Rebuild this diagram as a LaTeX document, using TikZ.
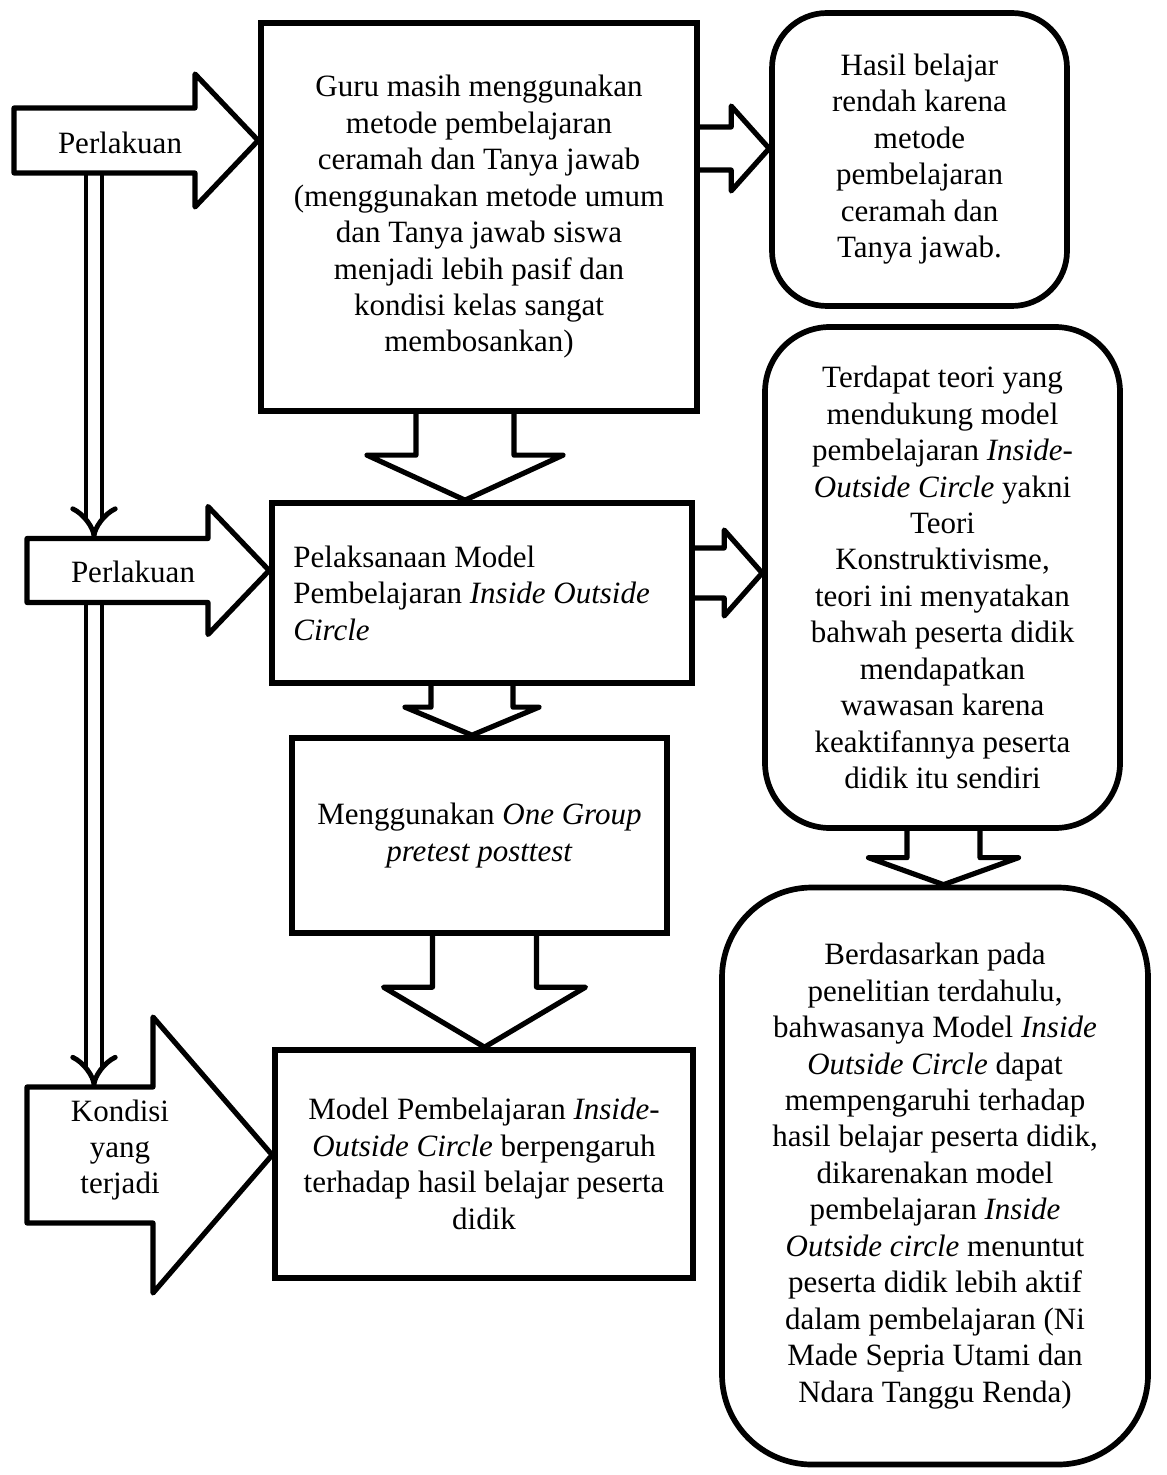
\documentclass[tikz,border=0pt]{standalone}
\usepackage{fontspec}
\setmainfont{Liberation Serif}
\usetikzlibrary{calc,arrows.meta,backgrounds}

\pgfmathsetmacro{\px}{0.387}
\tikzset{
  box/.style={draw, line width=2.2pt, align=center, inner sep=0pt, font=\fontsize{12}{14.1}\selectfont},
  boxsize/.style 2 args={minimum width=#1*\px pt, minimum height=#2*\px pt},
  roundbox/.style={box, rounded corners=#1*\px pt},
  blockarrow/.style={draw, line width=2pt, line join=round},
  railarrow/.style={double, double distance=4.3pt, line width=1.9pt, -{Implies[length=6pt,width=15pt]}},
  tag/.style={align=center, inner sep=0pt, font=\fontsize{12}{14.1}\selectfont}
}

% down block arrow: start coordinate, target anchor, shaft half width, head half width, head length
\providecommand{\blockdown}[5]{%
  \coordinate (#1-tip) at (#1 |- #2);
  \draw[blockarrow] ($(#1)+(-#3,0)$) -- ($(#1-tip)+(-#3,-#5)$) -- ($(#1-tip)+(-#4,-#5)$) -- (#1-tip)
    -- ($(#1-tip)+(#4,-#5)$) -- ($(#1-tip)+(#3,-#5)$) -- ($(#1)+(#3,0)$);}
% right block arrow
\providecommand{\blockright}[5]{%
  \coordinate (#1-tip) at (#2 |- #1);
  \draw[blockarrow] ($(#1)+(0,-#3)$) -- ($(#1-tip)+(-#5,-#3)$) -- ($(#1-tip)+(-#5,-#4)$) -- (#1-tip)
    -- ($(#1-tip)+(-#5,#4)$) -- ($(#1-tip)+(-#5,#3)$) -- ($(#1)+(0,#3)$);}
% labelled arrow on the left: name, tail x, head x, target, centre y, shaft half, head half
\providecommand{\tagarrow}[7]{%
  \coordinate (#1-c) at (#2,#5);
  \coordinate (#1-tip) at (#4.west |- #1-c);
  \coordinate (#1-top) at (#2,#5-#6);
  \coordinate (#1-bot) at (#2,#5+#6);
  \draw[blockarrow] (#1-top) -- (#3,#5-#6) -- (#3,#5-#7) -- (#1-tip) -- (#3,#5+#7) -- (#3,#5+#6) -- (#1-bot) -- cycle;}

\begin{document}
\begin{tikzpicture}[x=0.387pt, y=-0.387pt]
    \useasboundingbox (0,0) rectangle (1166,1475);

    \node[box, boxsize={436}{388}] (guru) at (479,217)
      {Guru masih menggunakan\\metode pembelajaran\\ceramah dan Tanya jawab\\(menggunakan metode umum\\dan Tanya jawab siswa\\menjadi lebih pasif dan\\kondisi kelas sangat\\membosankan)};
    \node[roundbox=55, boxsize={295}{293}] (hasil) at (919.5,159.5)
      {\\[-6pt]Hasil belajar\\rendah karena\\metode\\pembelajaran\\ceramah dan\\Tanya jawab.};
    \node[box, boxsize={420}{180}, align=flush left, text width=146pt] (pel) at (482,593)
      {Pelaksanaan Model\\Pembelajaran \textit{Inside Outside}\\\textit{Circle}};
    \node[roundbox=65, boxsize={355}{501}] (teori) at (942.5,577.5)
      {Terdapat teori yang\\mendukung model\\pembelajaran \textit{Inside-}\\\textit{Outside Circle} yakni\\Teori\\Konstruktivisme,\\teori ini menyatakan\\bahwah peserta didik\\mendapatkan\\wawasan karena\\keaktifannya peserta\\didik itu sendiri};
    \node[box, boxsize={375}{195}] (desain) at (479.5,835.5)
      {Menggunakan \textit{One Group}\\\textit{pretest posttest}};
    \node[box, boxsize={418}{228}] (hasilmodel) at (484,1164)
      {Model Pembelajaran \textit{Inside-}\\\textit{Outside Circle} berpengaruh\\terhadap hasil belajar peserta\\didik};
    \node[roundbox=90, boxsize={426}{577}] (terdahulu) at (935,1176)
      {Berdasarkan pada\\penelitian terdahulu,\\bahwasanya Model \textit{Inside}\\\textit{Outside Circle} dapat\\mempengaruhi terhadap\\hasil belajar peserta didik,\\dikarenakan model\\pembelajaran \textit{Inside}\\\textit{Outside circle} menuntut\\peserta didik lebih aktif\\dalam pembelajaran (Ni\\Made Sepria Utami dan\\Ndara Tanggu Renda)};

    % left side
    \tagarrow{L1}{14}{195}{guru}{140.5}{32.5}{66.5}
    \tagarrow{L2}{27}{208}{pel}{570.5}{32}{64}
    \tagarrow{L3}{27}{153}{hasilmodel}{1155}{68}{138}
    \node[tag] (t1) at (120,143) {Perlakuan};
    \node[tag] (t2) at (133,572) {Perlakuan};
    \node[tag] (t3) at (120,1150) {Kondisi\\yang\\terjadi};
    \coordinate (rail) at (94,0);
    \begin{scope}[on background layer]
      \draw[railarrow] (rail |- L1-bot) -- (rail |- L2-top);
      \draw[railarrow] (rail |- L2-bot) -- (rail |- L3-top);
    \end{scope}

    % block arrows between boxes
    \coordinate (a1) at ($(guru.south)+(-14,0)$);
    \coordinate (a2) at ($(pel.south)+(-10,0)$);
    \coordinate (a3) at ($(desain.south)+(5,0)$);
    \coordinate (a4) at ($(teori.south)+(1,0)$);
    \coordinate (r1) at ($(guru.east)+(0,-68.5)$);
    \coordinate (r2) at ($(pel.east)+(0,-20)$);
    \blockdown{a1}{pel.north}{49}{98}{45}
    \blockdown{a2}{desain.north}{41}{67}{28}
    \blockdown{a3}{hasilmodel.north}{52}{101}{60}
    \blockdown{a4}{terdahulu.north}{36.5}{75}{27}
    \blockright{r1}{hasil.west}{21.5}{42.5}{38}
    \blockright{r2}{teori.west}{25}{43}{38}
\end{tikzpicture}
\end{document}
